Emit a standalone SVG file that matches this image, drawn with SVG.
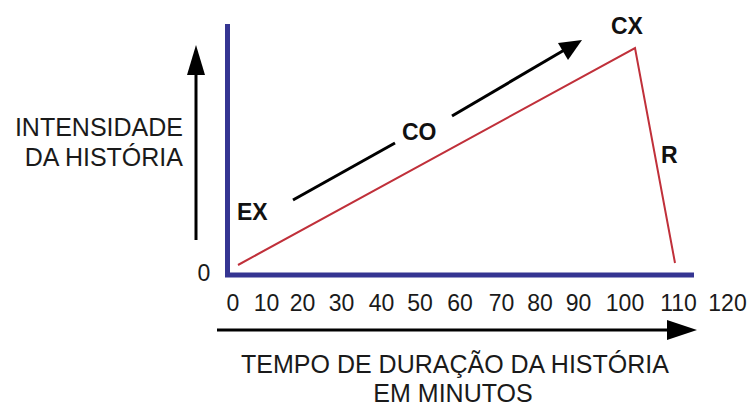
<svg xmlns="http://www.w3.org/2000/svg" width="754" height="406" viewBox="0 0 754 406">
<style>
.t{font-family:"Liberation Sans",Arial,sans-serif;fill:#1a1a1a}
.lbl{font-size:25px}
.tick{font-size:23px;text-anchor:middle}
.b{font-family:"Liberation Sans",Arial,sans-serif;font-weight:bold;font-size:23px;fill:#111}
.axis{stroke:#353592;stroke-width:5;fill:none}
.arr{stroke:#000;stroke-width:3;fill:none}
.curve{stroke:#c0303a;stroke-width:2;fill:none;stroke-linejoin:miter}
</style>
<rect width="754" height="406" fill="#fff"/>
<g id="axes">
<path class="axis" d="M227.5,24 V275 H694"/>
</g>
<g id="connectors">
<path class="arr" d="M196,240 V72"/>
<polygon points="196,45 187,75 205,75" fill="#000"/>
<path class="arr" d="M217,330 H668"/>
<polygon points="697,330 667,320 667,340" fill="#000"/>
<path class="arr" d="M293,200 L395,143"/>
<path class="arr" d="M452,116 L566,49"/>
<polygon points="582,40 558,43 568,60" fill="#000"/>
<polyline class="curve" points="238,265 635,48 675,263"/>
</g>
<g id="y-label">
<text class="t lbl" x="183" y="136" text-anchor="end">INTENSIDADE</text>
<text class="t lbl" x="183" y="166" text-anchor="end">DA HISTÓRIA</text>
<text class="t" x="204" y="281" font-size="23" text-anchor="middle">0</text>
</g>
<g id="x-ticks">
<text class="t tick" x="233" y="311">0</text>
<text class="t tick" x="266.5" y="311">10</text>
<text class="t tick" x="302.5" y="311">20</text>
<text class="t tick" x="341.5" y="311">30</text>
<text class="t tick" x="381.5" y="311">40</text>
<text class="t tick" x="420" y="311">50</text>
<text class="t tick" x="460" y="311">60</text>
<text class="t tick" x="501.5" y="311">70</text>
<text class="t tick" x="540" y="311">80</text>
<text class="t tick" x="578.5" y="311">90</text>
<text class="t tick" x="625" y="311">100</text>
<text class="t tick" x="678.5" y="311">110</text>
<text class="t tick" x="727.5" y="311">120</text>
</g>
<g id="x-label">
<text class="t lbl" x="455" y="373" text-anchor="middle">TEMPO DE DURAÇÃO DA HISTÓRIA</text>
<text class="t lbl" x="453" y="402" text-anchor="middle">EM MINUTOS</text>
</g>
<g id="stage-EX"><text class="b" x="237" y="220">EX</text></g>
<g id="stage-CO"><text class="b" x="402" y="140">CO</text></g>
<g id="stage-CX"><text class="b" x="611" y="34">CX</text></g>
<g id="stage-R"><text class="b" x="661" y="163">R</text></g>
</svg>
